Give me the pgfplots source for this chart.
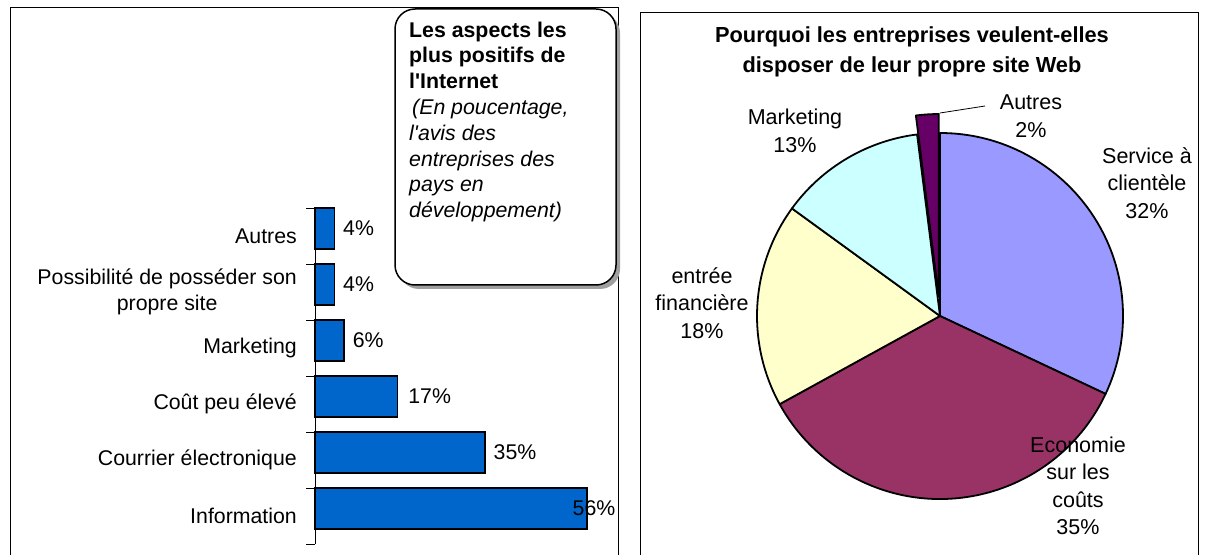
\documentclass[border=0pt]{standalone}
\usepackage{fontspec}
\setmainfont{Liberation Sans}[Ligatures=TeXOff]
\usepackage{pgfplots}
\pgfplotsset{compat=1.18}
\usepackage{pgfplotstable}

\definecolor{barblue}{RGB}{0,102,204}
\definecolor{pSvc}{RGB}{153,153,255}
\definecolor{pEco}{RGB}{153,51,102}
\definecolor{pFin}{RGB}{255,255,204}
\definecolor{pMkt}{RGB}{204,255,255}
\definecolor{pAut}{RGB}{102,0,102}

\newcommand\lbl{\fontsize{21.3bp}{25.8bp}\selectfont}
\newcommand\plbl{\fontsize{21.5bp}{27.5bp}\selectfont}
\newcommand\ttl{\bfseries\fontsize{21.8bp}{30bp}\selectfont}

% bar chart: y = category position, x = percent, sh = label offset
\pgfplotstableread{
y x sh
0 56 -15
1 35 8
2 17 10
3 6 8
4 4 8
5 4 8
}\bardata

% pie slices, clockwise from 12 o'clock
\newcommand\pietot{0}
\newcommand\slice[3]{% value, colour, explode
  \pgfmathsetmacro\aS{90-3.6*\pietot}%
  \pgfmathsetmacro\aE{90-3.6*(\pietot+#1)}%
  \pgfmathsetmacro\aM{(\aS+\aE)/2}%
  \filldraw[fill=#2,draw=black,line width=1.8bp,line join=round]
    (axis cs:0,0) ++(\aM:#3) -- ++(\aS:183bp)
    arc[start angle=\aS,end angle=\aE,radius=183bp] -- cycle;
  \pgfmathsetmacro\pieT{\pietot+#1}\xdef\pietot{\pieT}%
}

\begin{document}
\begin{tikzpicture}[x=1bp,y=-1bp]
\useasboundingbox (0,0) rectangle (1205,555);

% panel frames
\draw[line width=1bp] (10,565) -- (10,8) -- (618,8) -- (618,565);
\draw[line width=1bp] (640,565) -- (640,13) -- (1198,13) -- (1198,565);

\begin{axis}[
  at={(315bp,-544bp)}, anchor=south west,
  scale only axis, width=291.4bp, height=336bp,
  xmin=0, xmax=60, ymin=-0.5, ymax=5.5,
  xbar, bar width=41bp, bar shift=7.5bp,
  axis x line=none, axis y line*=left,
  axis line style={line width=1bp,-},
  ytick={0,...,5},
  yticklabels={Information,Courrier électronique,Coût peu élevé,Marketing,{Possibilité de posséder son\\propre site},Autres},
  major tick length=0pt,
  minor ytick={-0.5,0.5,...,5.5},
  minor tick length=9bp,
  tick align=outside,
  minor tick style={line width=1bp,black},
  yticklabel style={font=\lbl,align=center,inner sep=0pt,xshift=-18bp},
  /pgf/number format/assume math mode=true,
  visualization depends on={\thisrow{sh}\as\lsh},
  nodes near coords={\pgfmathprintnumber{\pgfplotspointmeta}\%},
  nodes near coords style={font=\lbl,anchor=west,inner sep=0pt,xshift={\lsh*1bp}},
  clip=false,
]
\addplot[fill=barblue,draw=black,line width=1.5bp] table[x=x,y=y]{\bardata};
\end{axis}

% text box with shadow
\fill[gray!75,rounded corners=20bp] (399,13) rectangle (620,289);
\filldraw[fill=white,draw=black,line width=1.5bp,rounded corners=20bp] (395,9) rectangle (616,285);
\node[anchor=north west,inner sep=0pt,align=left,font=\lbl] at (409,21.5)
  {\textbf{Les aspects les}\\\textbf{plus positifs de}\\\textbf{l'Internet}\\
   \textit{\hspace{3bp}(En poucentage,}\\\textit{l'avis des}\\\textit{entreprises des}\\
   \textit{pays en}\\\textit{développement)}};

% pie
\begin{axis}[
  at={(940bp,-316bp)}, anchor=center,
  scale only axis, width=366bp, height=366bp,
  xmin=-1, xmax=1, ymin=-1, ymax=1,
  hide axis, clip=false,
]
\pgfplotsextra{%
  \slice{32}{pSvc}{0bp}%
  \slice{35}{pEco}{0bp}%
  \slice{18}{pFin}{0bp}%
  \slice{13}{pMkt}{0bp}%
  \slice{2}{pAut}{19bp}%
}
\end{axis}

\draw[line width=0.8bp] (940,113) -- (985,106);

\node[font=\ttl,align=center] at (912,52) {Pourquoi les entreprises veulent-elles\\disposer de leur propre site Web};
\node[font=\plbl,align=center] at (1147,183) {Service à\\clientèle\\32\%};
\node[font=\plbl,align=center] at (1078,486) {Economie\\sur les\\coûts\\35\%};
\node[font=\plbl,align=center] at (702,303) {entrée\\financière\\18\%};
\node[font=\plbl,align=center] at (795,131) {Marketing\\13\%};
\node[font=\plbl,align=center] at (1031,116) {Autres\\2\%};
\end{tikzpicture}
\end{document}
